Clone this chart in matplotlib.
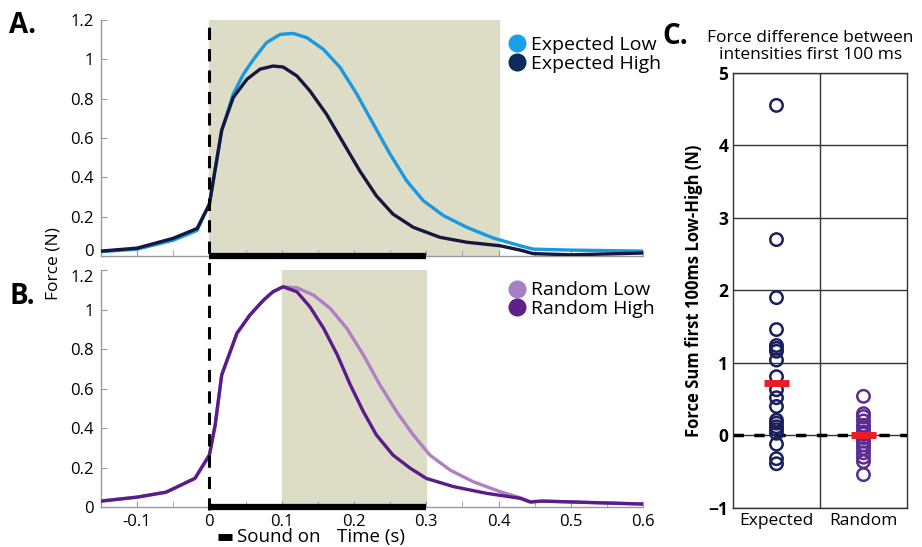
import matplotlib
matplotlib.use("Agg")
import matplotlib.pyplot as plt
from matplotlib.lines import Line2D
import matplotlib.transforms as mtransforms

plt.rcParams['font.family'] = ['Open Sans', 'DejaVu Sans']

# panel A: expected condition force traces
t_exp_low = [-0.15, -0.1, -0.05, -0.017, 0.0, 0.017, 0.033, 0.047, 0.061, 0.079, 0.098,
             0.116, 0.135, 0.158, 0.181, 0.204, 0.227, 0.25, 0.273, 0.296, 0.324, 0.356,
             0.393, 0.43, 0.448, 0.5, 0.6]
f_exp_low = [0.022, 0.035, 0.08, 0.13, 0.264, 0.636, 0.823, 0.924, 1.0, 1.085, 1.127,
             1.132, 1.11, 1.05, 0.958, 0.823, 0.67, 0.518, 0.382, 0.281, 0.205, 0.146,
             0.091, 0.052, 0.035, 0.03, 0.025]
t_exp_high = [-0.15, -0.1, -0.05, -0.017, 0.0, 0.017, 0.033, 0.052, 0.07, 0.088, 0.102,
              0.121, 0.139, 0.162, 0.185, 0.208, 0.231, 0.254, 0.282, 0.319, 0.356, 0.402,
              0.43, 0.448, 0.5, 0.6]
f_exp_high = [0.025, 0.04, 0.09, 0.14, 0.264, 0.64, 0.806, 0.899, 0.95, 0.966, 0.961,
              0.916, 0.84, 0.721, 0.577, 0.433, 0.306, 0.213, 0.146, 0.095, 0.07, 0.052,
              0.03, 0.012, 0.006, 0.015]

# panel B: random condition force traces
t_rnd_low = [-0.15, -0.1, -0.06, -0.02, 0.0, 0.008, 0.017, 0.038, 0.056, 0.075, 0.088,
             0.102, 0.121, 0.144, 0.167, 0.19, 0.213, 0.236, 0.259, 0.282, 0.305, 0.333,
             0.365, 0.402, 0.43, 0.444, 0.46, 0.6]
f_rnd_low = [0.03, 0.05, 0.075, 0.145, 0.263, 0.415, 0.668, 0.879, 0.972, 1.048, 1.09,
             1.115, 1.11, 1.073, 1.006, 0.905, 0.77, 0.618, 0.483, 0.365, 0.263, 0.187,
             0.128, 0.078, 0.047, 0.027, 0.03, 0.015]
t_rnd_high = [-0.15, -0.1, -0.06, -0.02, 0.0, 0.008, 0.017, 0.038, 0.056, 0.075, 0.088,
              0.102, 0.121, 0.139, 0.158, 0.177, 0.195, 0.213, 0.231, 0.254, 0.278, 0.3,
              0.338, 0.384, 0.43, 0.444, 0.46, 0.6]
f_rnd_high = [0.03, 0.05, 0.075, 0.145, 0.263, 0.415, 0.668, 0.879, 0.972, 1.048, 1.09,
              1.115, 1.09, 1.014, 0.905, 0.77, 0.618, 0.483, 0.365, 0.263, 0.196, 0.145,
              0.103, 0.069, 0.044, 0.025, 0.03, 0.015]

# panel C: force difference first 100 ms
expected_diff = [4.55, 2.70, 1.90, 1.46, 1.24, 1.20, 1.16, 1.04, 0.81, 0.63, 0.52, 0.40,
                 0.21, 0.17, 0.12, 0.08, 0.03, -0.12, -0.32, -0.39]
random_diff = [0.54, 0.30, 0.26, 0.20, 0.14, 0.10, 0.05, 0.02, -0.03, -0.08, -0.13,
               -0.18, -0.24, -0.30, -0.36, -0.54]
expected_mean = 0.72
random_mean = 0.0
groups = ['Expected', 'Random']

shade_a = (0.0, 0.4)
shade_b = (0.1, 0.3)
sound_on = (0.0, 0.3)

shade_col = '#dddcc6'
axis_col = '#9a9a9a'

fig = plt.figure(figsize=(9.22, 5.47), dpi=100)
axA = fig.add_axes([0.1095, 0.532, 0.588, 0.4314])
axB = fig.add_axes([0.1095, 0.0731, 0.588, 0.4333])


def style_trace_axis(ax, show_xlabels):
    ax.set_xlim(-0.15, 0.6)
    ax.set_ylim(0, 1.2)
    for s in ['top', 'right']:
        ax.spines[s].set_visible(False)
    for s in ['left', 'bottom']:
        ax.spines[s].set_color(axis_col)
        ax.spines[s].set_linewidth(1.0)
    ax.set_yticks([0, 0.2, 0.4, 0.6, 0.8, 1.0, 1.2])
    ax.set_yticklabels(['0', '0.2', '0.4', '0.6', '0.8', '1', '1.2'])
    ax.set_xticks([-0.1, 0, 0.1, 0.2, 0.3, 0.4, 0.5, 0.6])
    ax.set_xticks([-0.15, -0.05, 0.05, 0.15, 0.25, 0.35, 0.45, 0.55], minor=True)
    if show_xlabels:
        ax.set_xticklabels(['-0.1', '0', '0.1', '0.2', '0.3', '0.4', '0.5', '0.6'])
    else:
        ax.set_xticklabels([])
    ax.tick_params(which='both', direction='in', length=4, color=axis_col,
                   labelsize=12, pad=5)


style_trace_axis(axA, False)
style_trace_axis(axB, True)
# keep the "0" of A and the "1.2" of B from running into each other
axA.get_yticklabels()[0].set_va('baseline')
axB.get_yticklabels()[-1].set_va('top')

axA.axvspan(shade_a[0], shade_a[1], color=shade_col, zorder=0)
axB.axvspan(shade_b[0], shade_b[1], color=shade_col, zorder=0)

axA.plot(t_exp_low, f_exp_low, color='#1a98e0', lw=2.4, zorder=3)
axA.plot(t_exp_high, f_exp_high, color='#15173f', lw=2.4, zorder=4)
axB.plot(t_rnd_low, f_rnd_low, color='#b07fc6', lw=2.4, zorder=3)
axB.plot(t_rnd_high, f_rnd_high, color='#5a1c88', lw=2.4, zorder=4)

for ax in (axA, axB):
    ax.plot(sound_on, [0, 0], color='black', lw=4.5, solid_capstyle='butt',
            clip_on=False, zorder=6)

# dashed onset line running through both panels
trans = mtransforms.blended_transform_factory(axA.transData, fig.transFigure)
fig.add_artist(Line2D([0, 0], [0.067, 0.963], transform=trans, color='black',
                      lw=2.2, ls=(0, (4, 3)), zorder=10))

legA = [Line2D([], [], ls='', marker='o', ms=12, color='#1aa0e8', label='Expected Low'),
        Line2D([], [], ls='', marker='o', ms=12, color='#0d2a5c', label='Expected High')]
axA.legend(handles=legA, loc='upper left', bbox_to_anchor=(0.718, 0.965), frameon=False,
           fontsize=14, handletextpad=-0.3, labelspacing=0.05, borderaxespad=0)
legB = [Line2D([], [], ls='', marker='o', ms=12, color='#a77fc4', label='Random Low'),
        Line2D([], [], ls='', marker='o', ms=12, color='#5e2089', label='Random High')]
axB.legend(handles=legB, loc='upper left', bbox_to_anchor=(0.718, 0.985), frameon=False,
           fontsize=14, handletextpad=-0.3, labelspacing=0.05, borderaxespad=0)

fig.text(0.058, 0.518, 'Force (N)', rotation=90, ha='center', va='center', fontsize=12.5)
fig.text(0.365, 0.018, 'Time (s)', ha='left', va='center', fontsize=13.5)
fig.text(0.257, 0.018, 'Sound on', ha='left', va='center', fontsize=13.5)
fig.add_artist(Line2D([0.2365, 0.2515], [0.018, 0.018], transform=fig.transFigure,
                      color='black', lw=5, solid_capstyle='butt'))
fig.text(0.010, 0.953, 'A.', fontsize=20, fontweight='bold', va='center')
fig.text(0.010, 0.458, 'B.', fontsize=20, fontweight='bold', va='center')

# panel C
axC = fig.add_axes([0.795, 0.0713, 0.1887, 0.7957])
axC.set_xlim(0.5, 2.5)
axC.set_ylim(-1, 5)
axC.set_yticks(range(-1, 6))
axC.set_xticks([1, 2])
axC.set_xticklabels(groups)
axC.set_xticks([1.5], minor=True)
axC.grid(True, which='major', axis='y', color='#333333', lw=1.0)
axC.grid(True, which='minor', axis='x', color='#333333', lw=1.0)
axC.set_axisbelow(True)
for s in axC.spines.values():
    s.set_color('#333333')
    s.set_linewidth(1.0)
axC.tick_params(which='both', length=0, labelsize=12.5)
for lab in axC.get_yticklabels():
    lab.set_fontweight('bold')

axC.axhline(0, color='black', lw=2.5, ls=(0, (3, 3)), zorder=2)
axC.scatter([1] * len(expected_diff), expected_diff, s=80, facecolors='none',
            edgecolors='#1c1f5e', linewidths=1.8, zorder=3)
axC.scatter([2] * len(random_diff), random_diff, s=80, facecolors='none',
            edgecolors='#5b2d90', linewidths=1.8, zorder=3)
axC.plot([0.86, 1.14], [expected_mean] * 2, color='#ec1c24', lw=5,
         solid_capstyle='butt', zorder=4)
axC.plot([1.86, 2.14], [random_mean] * 2, color='#ec1c24', lw=5,
         solid_capstyle='butt', zorder=4)

fig.text(0.879, 0.915, 'Force difference between\nintensities first 100 ms',
         ha='center', va='center', fontsize=12.5, linespacing=1.1)
axC.set_ylabel('Force Sum first 100ms Low-High (N)', fontsize=12, fontweight='bold',
               labelpad=4)
fig.text(0.718, 0.934, 'C.', fontsize=20, fontweight='bold', va='center')

fig.savefig('out.png', dpi=100)
